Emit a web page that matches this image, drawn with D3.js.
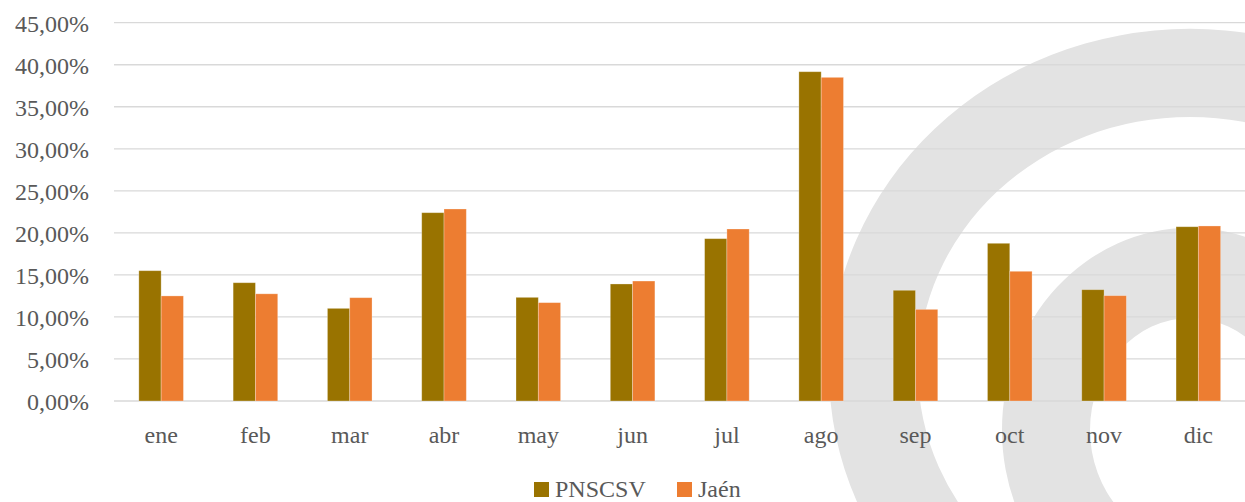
<!DOCTYPE html>
<html>
<head>
<meta charset="utf-8">
<script src="https://cdn.jsdelivr.net/npm/d3@7"></script>
<style>
  html, body { margin: 0; padding: 0; background: #fff; }
  svg text { font-family: 'Liberation Serif', 'Times New Roman', Times, 'DejaVu Serif', 'Noto Serif', serif; }
</style>
</head>
<body>
<svg id="chart" width="1245" height="502"></svg>
<script>
const months = ['ene', 'feb', 'mar', 'abr', 'may', 'jun', 'jul', 'ago', 'sep', 'oct', 'nov', 'dic']
const seriesNames = ['PNSCSV', 'Jaén']
const pnscsv = [15.5, 14.07, 11.02, 22.4, 12.33, 13.92, 19.31, 39.17, 13.17, 18.76, 13.24, 20.73]
const jaen = [12.5, 12.75, 12.29, 22.84, 11.7, 14.27, 20.46, 38.5, 10.9, 15.43, 12.53, 20.82]
const yTicks = [0, 5, 10, 15, 20, 25, 30, 35, 40, 45]
const colors = ['#997300', '#ED7D31']

const svg = d3.select('#chart')
const margin = { left: 114, top: 22.7, bottom: 101 }
const width = 1245.5
const height = 502
const textColor = '#595959'
const fontSize = '24px'

// watermark rings in the background
const wm = svg.append('g').attr('fill', '#e3e3e3').attr('fill-rule', 'evenodd')
function ellipsePath (cx, cy, rx, ry) {
  return `M${cx - rx},${cy} a${rx},${ry} 0 1,0 ${2 * rx},0 a${rx},${ry} 0 1,0 ${-2 * rx},0 Z`
}
function ring (cx, cy, rxo, ryo, rxi, ryi) {
  wm.append('path').attr('d', ellipsePath(cx, cy, rxo, ryo) + ' ' + ellipsePath(cx, cy, rxi, ryi))
}
ring(1190, 370, 361, 341, 272, 253)
ring(1190, 430, 188, 202, 100, 112)

const x0 = d3.scaleBand()
  .domain(months)
  .range([margin.left, width])
  .paddingInner(0.527)
  .paddingOuter(0.2635)
const x1 = d3.scaleBand()
  .domain(seriesNames)
  .range([0, x0.bandwidth()])
const y = d3.scaleLinear()
  .domain([0, 45])
  .range([height - margin.bottom, margin.top])

// gridlines
svg.append('g')
  .selectAll('line')
  .data(yTicks)
  .join('line')
  .attr('x1', margin.left)
  .attr('x2', width)
  .attr('y1', d => y(d))
  .attr('y2', d => y(d))
  .attr('stroke', '#d9d9d9')
  .attr('stroke-width', 1.3)

// y axis labels
const fmt = d => d3.format('.2f')(d).replace('.', ',') + '%'
const yAxis = svg.append('g')
  .attr('transform', `translate(${margin.left - 25}, 0)`)
  .call(d3.axisLeft(y).tickValues(yTicks).tickFormat(fmt).tickSize(0).tickPadding(0))
yAxis.attr('font-family', null).attr('font-size', null)
yAxis.select('.domain').remove()
yAxis.selectAll('text')
  .attr('fill', textColor)
  .style('font-size', fontSize)
  .attr('dy', '0.35em')

// bars
const data = months.map((m, i) => ({ month: m, values: [pnscsv[i], jaen[i]] }))
svg.append('g')
  .selectAll('g')
  .data(data)
  .join('g')
  .attr('transform', d => `translate(${x0(d.month)}, 0)`)
  .selectAll('rect')
  .data(d => d.values.map((v, i) => ({ key: seriesNames[i], value: v, i })))
  .join('rect')
  .attr('x', d => x1(d.key))
  .attr('width', x1.bandwidth())
  .attr('y', d => y(d.value))
  .attr('height', d => y(0) - y(d.value))
  .attr('fill', d => colors[d.i])
  .attr('stroke', 'rgba(255,255,255,0.35)')
  .attr('stroke-width', 0.8)

// x axis labels
const xAxis = svg.append('g')
  .attr('transform', `translate(0, ${y(0)})`)
  .call(d3.axisBottom(x0).tickSize(0).tickPadding(0))
xAxis.attr('font-family', null).attr('font-size', null)
xAxis.select('.domain').remove()
xAxis.selectAll('text')
  .attr('fill', textColor)
  .style('font-size', fontSize)
  .attr('dy', null)
  .attr('y', 42)

// legend
const legend = svg.append('g').attr('transform', 'translate(534, 482)')
const legendX = [0, 143]
seriesNames.forEach((name, i) => {
  const g = legend.append('g').attr('transform', `translate(${legendX[i]}, 0)`)
  g.append('rect').attr('width', 15).attr('height', 15).attr('fill', colors[i])
  g.append('text')
    .attr('x', 21)
    .attr('y', 15)
    .attr('fill', textColor)
    .style('font-size', fontSize)
    .text(name)
})
</script>
</body>
</html>
